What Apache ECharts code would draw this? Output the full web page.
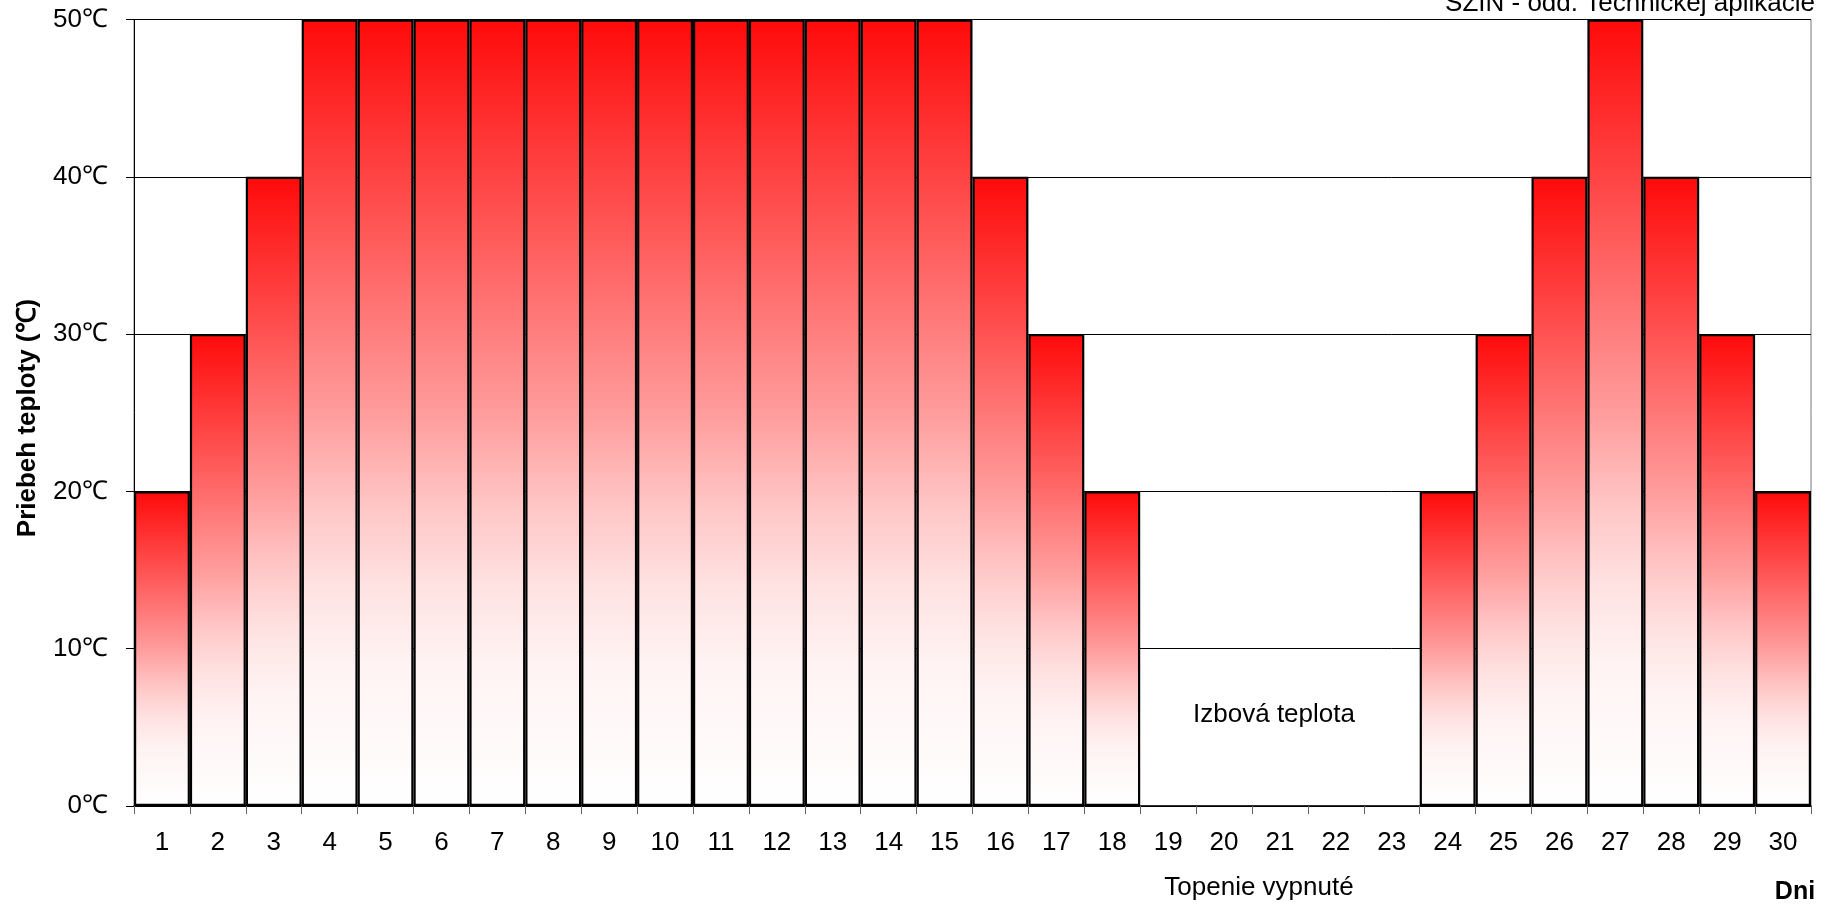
<!DOCTYPE html>
<html>
<head>
<meta charset="utf-8">
<script src="https://cdn.jsdelivr.net/npm/echarts@6/dist/echarts.min.js"></script>
<style>
html,body{margin:0;padding:0;background:#fff;}
#chart{width:1834px;height:905px;}
</style>
</head>
<body>
<div id="chart"></div>
<script>
const days = ['1','2','3','4','5','6','7','8','9','10','11','12','13','14','15','16','17','18','19','20','21','22','23','24','25','26','27','28','29','30'];
const temps = [20,30,40,50,50,50,50,50,50,50,50,50,50,50,50,40,30,20,null,null,null,null,null,20,30,40,50,40,30,20];
const yTicks = {min:0, max:50, interval:10};
const yTitle = 'Priebeh teploty (℃)';
const xTitle = 'Dni';
const noteOff = 'Topenie vypnuté';
const noteRoom = 'Izbová teplota';
const source = 'SZIN - odd. Technickej aplikácie';

const FONT = "'Liberation Sans', Arial, sans-serif";
const chart = echarts.init(document.getElementById('chart'));
const barGradient = new echarts.graphic.LinearGradient(0,0,0,1,[
  {offset:0, color:'#ff0a0a'},
  {offset:0.25, color:'#ff5252'},
  {offset:0.5, color:'#ff9c9c'},
  {offset:0.62, color:'#ffc6c6'},
  {offset:0.72, color:'#ffe2e2'},
  {offset:0.82, color:'#fff3f3'},
  {offset:1, color:'#ffffff'}
]);
chart.setOption({
  animation:false,
  backgroundColor:'#fff',
  textStyle:{fontFamily:FONT},
  grid:{left:134, right:23, top:19.5, bottom:99, show:true, borderColor:'#777', borderWidth:1, backgroundColor:'transparent'},
  xAxis:{
    type:'category', data:days,
    axisLine:{lineStyle:{color:'#000', width:1.5}},
    axisTick:{show:true, alignWithLabel:false, length:8, lineStyle:{color:'#666', width:1}},
    axisLabel:{color:'#000', fontSize:26, fontFamily:FONT, margin:24, interval:0},
    splitLine:{show:false}
  },
  yAxis:{
    type:'value', min:yTicks.min, max:yTicks.max, interval:yTicks.interval,
    axisLine:{show:true, lineStyle:{color:'#000', width:1}},
    axisTick:{show:true, length:8, lineStyle:{color:'#000', width:1}},
    axisLabel:{color:'#000', fontSize:26, fontFamily:FONT, margin:26, formatter:'{value}℃'},
    splitLine:{show:true, lineStyle:{color:'#000', width:1}}
  },
  series:[{
    type:'bar', data:temps,
    barCategoryGap:'0%', barGap:'0%',
    itemStyle:{borderColor:'#000', borderWidth:2.2, color:barGradient}
  }],
  graphic:[
    {type:'text', right:19, top:-9, style:{text:source, font:'26px '+FONT, fill:'#000'}},
    {type:'text', x:28, y:418, rotation:Math.PI/2, style:{text:yTitle, font:'bold 26px '+FONT, fill:'#000', align:'center', verticalAlign:'middle'}},
    {type:'text', x:1274, y:715, style:{text:noteRoom, font:'26px '+FONT, fill:'#000', align:'center', verticalAlign:'middle'}},
    {type:'text', x:1259, y:888, style:{text:noteOff, font:'26px '+FONT, fill:'#000', align:'center', verticalAlign:'middle'}},
    {type:'text', x:1795, y:892, style:{text:xTitle, font:'bold 25px '+FONT, fill:'#000', align:'center', verticalAlign:'middle'}}
  ]
});
</script>
</body>
</html>
